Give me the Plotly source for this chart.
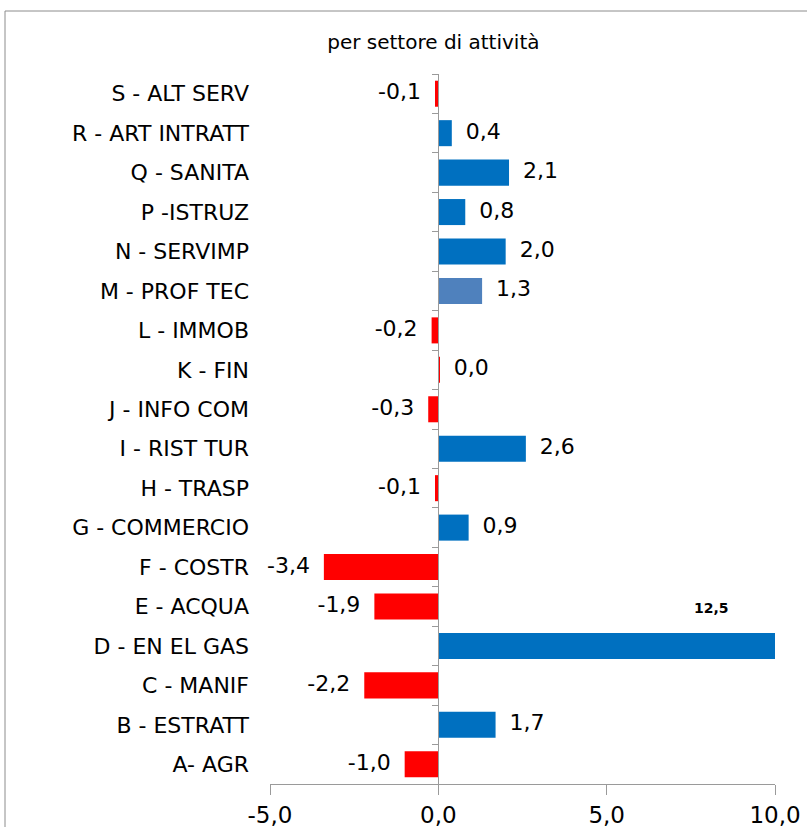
import plotly.graph_objects as go

# sectors, bottom to top as drawn
sectors = ["A- AGR", "B - ESTRATT", "C - MANIF", "D - EN EL GAS", "E - ACQUA",
           "F - COSTR", "G - COMMERCIO", "H - TRASP", "I - RIST TUR", "J - INFO COM",
           "K - FIN", "L - IMMOB", "M - PROF TEC", "N - SERVIMP", "P -ISTRUZ",
           "Q - SANITA", "R - ART INTRATT", "S - ALT SERV"]
values = [-1.0, 1.7, -2.2, 12.5, -1.9, -3.4, 0.9, -0.1, 2.6, -0.3,
          0.04, -0.2, 1.3, 2.0, 0.8, 2.1, 0.4, -0.1]
x_ticks = [-5, 0, 5, 10]
x_max = 10

BLUE = "#0070C0"
RED = "#FF0000"
SOFT_BLUE = "#4F81BD"


def fmt(v):
    return ("%.1f" % v).replace(".", ",")


colors = []
for s, v in zip(sectors, values):
    if s.startswith("M"):
        colors.append(SOFT_BLUE)
    elif v < 0 or s.startswith("K"):
        colors.append(RED)
    else:
        colors.append(BLUE)

texts, positions = [], []
for v in values:
    if v > x_max:
        texts.append("")  # clipped bar, labelled separately
        positions.append("middle right")
    elif v < 0:
        texts.append(fmt(v) + "\u00a0\u00a0")
        positions.append("middle left")
    else:
        texts.append("\u00a0\u00a0" + fmt(v))
        positions.append("middle right")

fig = go.Figure()
fig.add_trace(go.Bar(
    x=values, y=sectors, orientation="h",
    marker=dict(color=colors, line=dict(width=0)),
    width=0.66, cliponaxis=True, hoverinfo="x+y",
))
# value labels (not clipped to the plot area)
fig.add_trace(go.Scatter(
    x=values, y=sectors, mode="text", text=texts, textposition=positions,
    textfont=dict(family="DejaVu Sans", size=22, color="black"),
    cliponaxis=False, hoverinfo="skip",
))
# invisible trace to carry the axis at zero
fig.add_trace(go.Scatter(x=[0] * len(sectors), y=sectors, yaxis="y2",
                         mode="markers", marker=dict(opacity=0),
                         hoverinfo="skip", showlegend=False))

# label for the clipped bar
for s, v in zip(sectors, values):
    if v > x_max:
        fig.add_annotation(x=8.1, y=s, yshift=38, text="<b>" + fmt(v) + "</b>",
                           showarrow=False,
                           font=dict(family="DejaVu Sans", size=14, color="black"))

x_lo, x_hi = x_ticks[0], x_ticks[-1]
zero_pos = (0 - x_lo) / (x_hi - x_lo)
n = len(sectors)

fig.update_layout(
    width=807, height=827,
    margin=dict(l=270, r=32, t=74, b=43, autoexpand=False),
    plot_bgcolor="white", paper_bgcolor="white",
    showlegend=False,
    title=dict(text="per settore di attività", x=0.537, xanchor="center",
               y=1 - 42 / 827, yanchor="middle",
               font=dict(family="DejaVu Sans", size=20, color="black")),
    xaxis=dict(range=[x_lo, x_hi], tickvals=x_ticks, ticktext=[fmt(t) for t in x_ticks],
               showgrid=False, zeroline=False, showline=True, linecolor="#9a9a9a",
               ticks="outside", ticklen=10, tickcolor="#9a9a9a", automargin=False,
               tickfont=dict(family="DejaVu Sans", size=23, color="black")),
    yaxis=dict(categoryorder="array", categoryarray=sectors, range=[-0.5, n - 0.5],
               showgrid=False, showline=False, ticks="", ticklabelstandoff=20,
               automargin=False,
               tickfont=dict(family="DejaVu Sans", size=22, color="black")),
    yaxis2=dict(overlaying="y", matches="y", anchor="free", position=zero_pos,
                showline=True, linecolor="#9a9a9a", ticks="outside", ticklen=6,
                tickcolor="#9a9a9a", tickson="boundaries", showticklabels=False,
                showgrid=False, automargin=False),
    shapes=[dict(type="rect", xref="paper", yref="paper",
                 x0=(5 - 270) / 505, x1=1.2, y0=-0.2, y1=1 + (74 - 11) / 710,
                 line=dict(color="#8c8c8c", width=1), fillcolor="rgba(0,0,0,0)",
                 layer="below")],
)

# drop the default page margin so the figure sits at the window's corner
fig.write_html("out.html", config={"displayModeBar": False},
               post_script="document.body.style.margin='0';")
